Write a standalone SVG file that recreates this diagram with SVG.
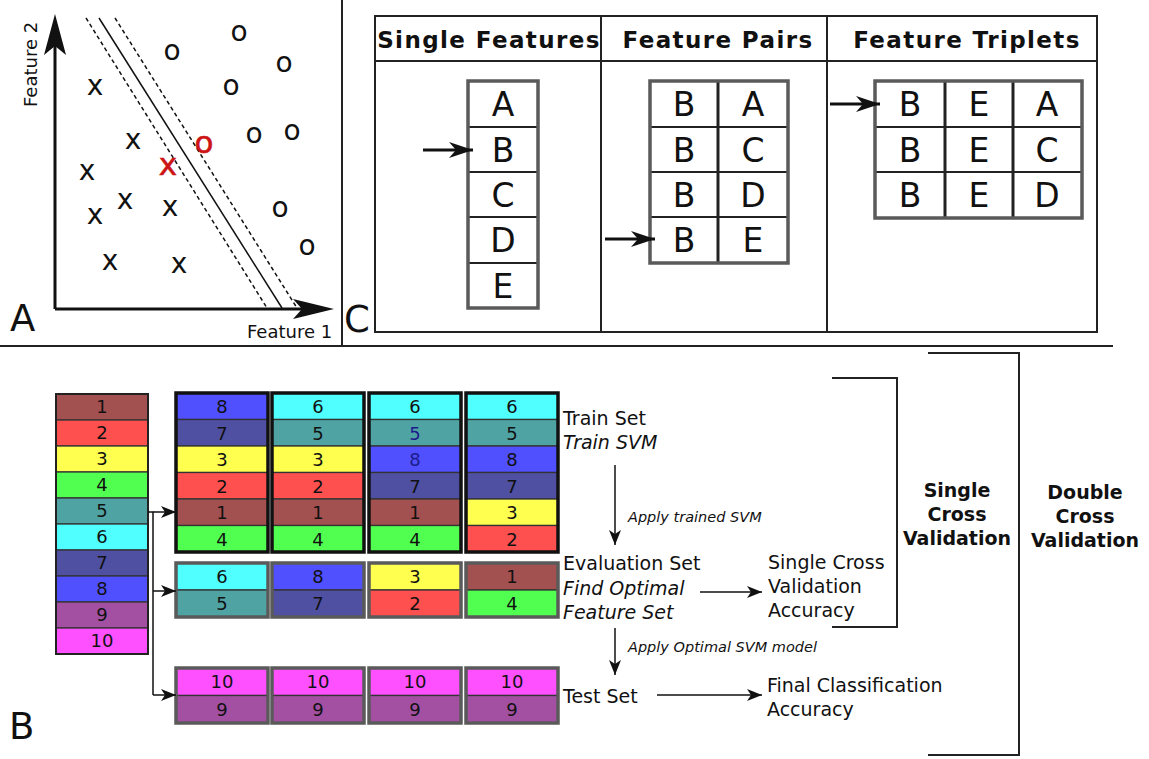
<svg xmlns="http://www.w3.org/2000/svg" width="1149" height="759" viewBox="0 0 1149 759">
<defs>
<style>
text{font-family:"DejaVu Sans","Liberation Sans",sans-serif;fill:#111}
.pt{font-size:28px;text-anchor:middle}
.red{fill:#cc1414;font-size:31px;stroke:#cc1414;stroke-width:0.6}
.ax{font-size:18px}
.big{font-size:37px}
.hdr{font-size:23px;font-weight:bold;text-anchor:middle;letter-spacing:1.4px}
.lt{font-size:33px;text-anchor:middle}
.num{font-size:18px;text-anchor:middle}
.lbl{font-size:19px}
.it{font-style:italic}
.sm{font-size:14.5px;font-style:italic}
.bold{font-size:19px;font-weight:bold;text-anchor:middle}
.blue{fill:#1c1c8c}
.c1{fill:#a35050}.c2{fill:#ff5050}.c3{fill:#ffff50}.c4{fill:#50ff50}.c5{fill:#50a3a3}
.c6{fill:#50ffff}.c7{fill:#5050a3}.c8{fill:#5050ff}.c9{fill:#a350a3}.c10{fill:#ff50ff}
rect.cell{stroke:#333;stroke-width:1.3}
.blk{fill:none;stroke:#111;stroke-width:3.5}
.gblk{fill:none;stroke:#5a5a5a;stroke-width:3.5}
.tbl{fill:none;stroke:#5a5a5a;stroke-width:3.5}
.frame{fill:none;stroke:#222;stroke-width:2}
.ln{fill:none;stroke:#111;stroke-width:1.5}
.grid{stroke:#222;stroke-width:2}
.vgrid{stroke:#222;stroke-width:3}
.dash{fill:none;stroke:#111;stroke-width:1.5;stroke-dasharray:4 3}
</style>
<marker id="arr" viewBox="-16 -7 17 14" refX="0" refY="0" markerWidth="17" markerHeight="14" markerUnits="userSpaceOnUse" orient="auto">
<path d="M0,0 L-15,-6 L-11,0 L-15,6 Z" fill="#111"/>
</marker>
<marker id="arrC" viewBox="-26 -9 27 18" refX="0" refY="0" markerWidth="27" markerHeight="18" markerUnits="userSpaceOnUse" orient="auto">
<path d="M0,0 L-24,-8 L-17,0 L-24,8 Z" fill="#111"/>
</marker>
</defs>
<rect x="0" y="0" width="1149" height="759" fill="#fff"/>

<!-- panel dividers -->
<g id="dividers" class="frame">
<line x1="342" y1="0" x2="342" y2="346"/>
<line x1="0" y1="346" x2="1113" y2="346"/>
</g>

<!-- Panel A: SVM margin scatter plot -->
<g id="panelA">
<line x1="55" y1="309" x2="55" y2="40" stroke="#111" stroke-width="3"/>
<line x1="55" y1="309" x2="305" y2="309" stroke="#111" stroke-width="3"/>
<path d="M55,14 L66,55 L55,46 L44,55 Z" fill="#111"/>
<path d="M334,309 L293,319 L302,309 L293,299 Z" fill="#111"/>
<line class="dash" x1="86" y1="18" x2="267" y2="308"/>
<line class="ln" x1="99" y1="18" x2="282" y2="308"/>
<line class="dash" x1="115" y1="18" x2="297" y2="308"/>
<g class="pt">
<text x="95" y="95">x</text>
<text x="133" y="149">x</text>
<text x="87" y="180">x</text>
<text x="125" y="209">x</text>
<text x="95" y="224">x</text>
<text x="170" y="216">x</text>
<text x="110" y="270">x</text>
<text x="179" y="273">x</text>
<text x="172" y="60">o</text>
<text x="239" y="41">o</text>
<text x="284" y="72">o</text>
<text x="231" y="95">o</text>
<text x="254" y="143">o</text>
<text x="292" y="140">o</text>
<text x="280" y="217">o</text>
<text x="307" y="255">o</text>
<text class="red" x="168" y="175">x</text>
<text class="red" x="204" y="153">o</text>
</g>
<text class="ax" transform="translate(37,107) rotate(-90)">Feature 2</text>
<text class="ax" x="247" y="338">Feature 1</text>
<text class="big" x="10" y="331">A</text>
</g>

<!-- Panel C: feature search table -->
<g id="panelC">
<rect class="frame" x="375" y="16" width="722" height="316"/>
<line class="frame" x1="375" y1="61" x2="1097" y2="61"/>
<line class="frame" x1="601" y1="16" x2="601" y2="332"/>
<line class="frame" x1="827" y1="16" x2="827" y2="332"/>
<text class="hdr" x="489" y="48">Single Features</text>
<text class="hdr" x="718" y="48">Feature Pairs</text>
<text class="hdr" x="967" y="48">Feature Triplets</text>
<text class="big" x="344" y="332">C</text>
</g>

<g id="single-features">
<g class="grid">
<line x1="468" y1="127" x2="538" y2="127"/>
<line x1="468" y1="172" x2="538" y2="172"/>
<line x1="468" y1="217" x2="538" y2="217"/>
<line x1="468" y1="263" x2="538" y2="263"/>
</g>
<rect class="tbl" x="468" y="81" width="70" height="227"/>
<g class="lt">
<text x="503" y="116">A</text>
<text x="503" y="162">B</text>
<text x="503" y="207">C</text>
<text x="503" y="252">D</text>
<text x="503" y="298">E</text>
</g>
</g>

<g id="feature-pairs">
<g class="grid">
<line x1="650" y1="127" x2="788" y2="127"/>
<line x1="650" y1="172" x2="788" y2="172"/>
<line x1="650" y1="217" x2="788" y2="217"/>
</g>
<line class="vgrid" x1="718" y1="81" x2="718" y2="263"/>
<rect class="tbl" x="650" y="81" width="138" height="182"/>
<g class="lt">
<text x="684" y="116">B</text><text x="753" y="116">A</text>
<text x="684" y="162">B</text><text x="753" y="162">C</text>
<text x="684" y="207">B</text><text x="753" y="207">D</text>
<text x="684" y="252">B</text><text x="753" y="252">E</text>
</g>
</g>

<g id="feature-triplets">
<g class="grid">
<line x1="875" y1="127" x2="1082" y2="127"/>
<line x1="875" y1="172" x2="1082" y2="172"/>
</g>
<line class="vgrid" x1="945" y1="81" x2="945" y2="218"/>
<line class="vgrid" x1="1013" y1="81" x2="1013" y2="218"/>
<rect class="tbl" x="875" y="81" width="207" height="137"/>
<g class="lt">
<text x="910" y="116">B</text><text x="979" y="116">E</text><text x="1047" y="116">A</text>
<text x="910" y="162">B</text><text x="979" y="162">E</text><text x="1047" y="162">C</text>
<text x="910" y="207">B</text><text x="979" y="207">E</text><text x="1047" y="207">D</text>
</g>
</g>

<!-- Panel B: cross validation scheme -->
<text class="big" x="9" y="739">B</text>

<g id="all-samples">
<rect class="cell c1" x="56" y="394" width="92" height="26"/>
<rect class="cell c2" x="56" y="420" width="92" height="26"/>
<rect class="cell c3" x="56" y="446" width="92" height="26"/>
<rect class="cell c4" x="56" y="472" width="92" height="26"/>
<rect class="cell c5" x="56" y="498" width="92" height="26"/>
<rect class="cell c6" x="56" y="524" width="92" height="26"/>
<rect class="cell c7" x="56" y="550" width="92" height="26"/>
<rect class="cell c8" x="56" y="576" width="92" height="26"/>
<rect class="cell c9" x="56" y="602" width="92" height="26"/>
<rect class="cell c10" x="56" y="628" width="92" height="26"/>
<rect x="56" y="394" width="92" height="260" fill="none" stroke="#222" stroke-width="2"/>
<g class="num">
<text x="102" y="413">1</text><text x="102" y="439">2</text><text x="102" y="465">3</text>
<text x="102" y="491">4</text><text x="102" y="517">5</text><text x="102" y="543">6</text>
<text x="102" y="569">7</text><text x="102" y="595">8</text><text x="102" y="621">9</text>
<text x="102" y="647">10</text>
</g>
</g>

<g id="train-1">
<rect class="cell c8" x="176" y="393" width="92" height="26.5"/>
<rect class="cell c7" x="176" y="419.5" width="92" height="26.5"/>
<rect class="cell c3" x="176" y="446" width="92" height="26.5"/>
<rect class="cell c2" x="176" y="472.5" width="92" height="26.5"/>
<rect class="cell c1" x="176" y="499" width="92" height="26.5"/>
<rect class="cell c4" x="176" y="525.5" width="92" height="26.5"/>
<rect class="blk" x="176" y="393" width="92" height="159"/>
<g class="num"><text x="222" y="413">8</text><text x="222" y="439.5">7</text><text x="222" y="466">3</text><text x="222" y="492.5">2</text><text x="222" y="519">1</text><text x="222" y="545.5">4</text></g>
</g>
<g id="train-2">
<rect class="cell c6" x="272" y="393" width="92" height="26.5"/>
<rect class="cell c5" x="272" y="419.5" width="92" height="26.5"/>
<rect class="cell c3" x="272" y="446" width="92" height="26.5"/>
<rect class="cell c2" x="272" y="472.5" width="92" height="26.5"/>
<rect class="cell c1" x="272" y="499" width="92" height="26.5"/>
<rect class="cell c4" x="272" y="525.5" width="92" height="26.5"/>
<rect class="blk" x="272" y="393" width="92" height="159"/>
<g class="num"><text x="318" y="413">6</text><text x="318" y="439.5">5</text><text x="318" y="466">3</text><text x="318" y="492.5">2</text><text x="318" y="519">1</text><text x="318" y="545.5">4</text></g>
</g>
<g id="train-3">
<rect class="cell c6" x="369" y="393" width="92" height="26.5"/>
<rect class="cell c5" x="369" y="419.5" width="92" height="26.5"/>
<rect class="cell c8" x="369" y="446" width="92" height="26.5"/>
<rect class="cell c7" x="369" y="472.5" width="92" height="26.5"/>
<rect class="cell c1" x="369" y="499" width="92" height="26.5"/>
<rect class="cell c4" x="369" y="525.5" width="92" height="26.5"/>
<rect class="blk" x="369" y="393" width="92" height="159"/>
<g class="num"><text x="415" y="413">6</text><text class="blue" x="415" y="439.5">5</text><text class="blue" x="415" y="466">8</text><text x="415" y="492.5">7</text><text x="415" y="519">1</text><text x="415" y="545.5">4</text></g>
</g>
<g id="train-4">
<rect class="cell c6" x="466" y="393" width="92" height="26.5"/>
<rect class="cell c5" x="466" y="419.5" width="92" height="26.5"/>
<rect class="cell c8" x="466" y="446" width="92" height="26.5"/>
<rect class="cell c7" x="466" y="472.5" width="92" height="26.5"/>
<rect class="cell c3" x="466" y="499" width="92" height="26.5"/>
<rect class="cell c2" x="466" y="525.5" width="92" height="26.5"/>
<rect class="blk" x="466" y="393" width="92" height="159"/>
<g class="num"><text x="512" y="413">6</text><text x="512" y="439.5">5</text><text x="512" y="466">8</text><text x="512" y="492.5">7</text><text x="512" y="519">3</text><text x="512" y="545.5">2</text></g>
</g>

<g id="eval-1">
<rect class="cell c6" x="176" y="563" width="92" height="27"/>
<rect class="cell c5" x="176" y="590" width="92" height="27"/>
<rect class="gblk" x="176" y="563" width="92" height="54"/>
<g class="num"><text x="222" y="583">6</text><text x="222" y="610">5</text></g>
</g>
<g id="eval-2">
<rect class="cell c8" x="272" y="563" width="92" height="27"/>
<rect class="cell c7" x="272" y="590" width="92" height="27"/>
<rect class="gblk" x="272" y="563" width="92" height="54"/>
<g class="num"><text x="318" y="583">8</text><text x="318" y="610">7</text></g>
</g>
<g id="eval-3">
<rect class="cell c3" x="369" y="563" width="92" height="27"/>
<rect class="cell c2" x="369" y="590" width="92" height="27"/>
<rect class="gblk" x="369" y="563" width="92" height="54"/>
<g class="num"><text x="415" y="583">3</text><text x="415" y="610">2</text></g>
</g>
<g id="eval-4">
<rect class="cell c1" x="466" y="563" width="92" height="27"/>
<rect class="cell c4" x="466" y="590" width="92" height="27"/>
<rect class="gblk" x="466" y="563" width="92" height="54"/>
<g class="num"><text x="512" y="583">1</text><text x="512" y="610">4</text></g>
</g>

<g id="test-1">
<rect class="cell c10" x="176" y="668" width="92" height="27.5"/>
<rect class="cell c9" x="176" y="695.5" width="92" height="27.5"/>
<rect class="gblk" x="176" y="668" width="92" height="55"/>
<g class="num"><text x="222" y="688">10</text><text x="222" y="716">9</text></g>
</g>
<g id="test-2">
<rect class="cell c10" x="272" y="668" width="92" height="27.5"/>
<rect class="cell c9" x="272" y="695.5" width="92" height="27.5"/>
<rect class="gblk" x="272" y="668" width="92" height="55"/>
<g class="num"><text x="318" y="688">10</text><text x="318" y="716">9</text></g>
</g>
<g id="test-3">
<rect class="cell c10" x="369" y="668" width="92" height="27.5"/>
<rect class="cell c9" x="369" y="695.5" width="92" height="27.5"/>
<rect class="gblk" x="369" y="668" width="92" height="55"/>
<g class="num"><text x="415" y="688">10</text><text x="415" y="716">9</text></g>
</g>
<g id="test-4">
<rect class="cell c10" x="466" y="668" width="92" height="27.5"/>
<rect class="cell c9" x="466" y="695.5" width="92" height="27.5"/>
<rect class="gblk" x="466" y="668" width="92" height="55"/>
<g class="num"><text x="512" y="688">10</text><text x="512" y="716">9</text></g>
</g>

<!-- stage labels -->
<g id="train-label" class="lbl">
<text x="563" y="425" class="lbl">Train Set</text>
<text x="563" y="449" class="lbl it">Train SVM</text>
</g>
<g id="eval-label">
<text x="563" y="570" class="lbl">Evaluation Set</text>
<text x="563" y="595" class="lbl it">Find Optimal</text>
<text x="563" y="619" class="lbl it">Feature Set</text>
</g>
<g id="test-label">
<text x="563" y="703" class="lbl">Test Set</text>
</g>
<g id="single-accuracy">
<text x="768" y="569" class="lbl">Single Cross</text>
<text x="768" y="593" class="lbl">Validation</text>
<text x="768" y="617" class="lbl">Accuracy</text>
</g>
<g id="final-accuracy">
<text x="767" y="692" class="lbl">Final Classification</text>
<text x="767" y="716" class="lbl">Accuracy</text>
</g>
<g id="single-cv">
<path class="frame" d="M832,378 H897 V627 H832"/>
<text class="bold" x="957" y="497">Single</text>
<text class="bold" x="957" y="521">Cross</text>
<text class="bold" x="957" y="545">Validation</text>
</g>
<g id="double-cv">
<path class="frame" d="M928,353 H1019 V755 H928"/>
<text class="bold" x="1085" y="499">Double</text>
<text class="bold" x="1085" y="523">Cross</text>
<text class="bold" x="1085" y="547">Validation</text>
</g>

<!-- connectors -->
<g id="connectors" class="ln">
<path d="M148,512 H153 V695"/>
<path d="M153,512 H176" marker-end="url(#arr)"/>
<path d="M153,591 H176" marker-end="url(#arr)"/>
<path d="M153,695 H176" marker-end="url(#arr)"/>
<path d="M615,465 V545" marker-end="url(#arr)"/>
<path d="M615,628 V675" marker-end="url(#arr)"/>
<path d="M700,592 H762" marker-end="url(#arr)"/>
<path d="M657,695 H762" marker-end="url(#arr)"/>
<path d="M423,150 H473" marker-end="url(#arrC)" stroke-width="3"/>
<path d="M605,239 H655" marker-end="url(#arrC)" stroke-width="3"/>
<path d="M830,104 H880" marker-end="url(#arrC)" stroke-width="3"/>
</g>
<text class="sm" x="628" y="522">Apply trained SVM</text>
<text class="sm" x="628" y="652">Apply Optimal SVM model</text>
</svg>
